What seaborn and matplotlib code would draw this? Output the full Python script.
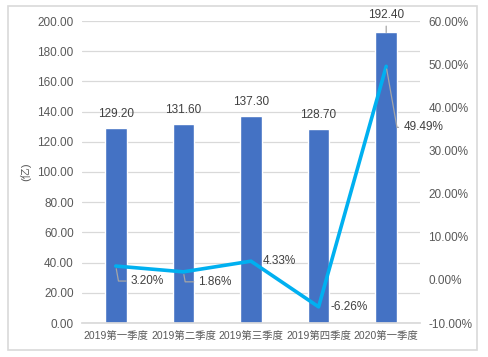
import matplotlib
matplotlib.use("Agg")
import matplotlib.pyplot as plt
import matplotlib.patches as mpatches
import seaborn as sns
import pandas as pd
import numpy as np

quarters = ["2019第一季度", "2019第二季度", "2019第三季度", "2019第四季度", "2020第一季度"]
amounts = [129.20, 131.60, 137.30, 128.70, 192.40]
growth = [3.20, 1.86, 4.33, -6.26, 49.49]
left_ticks = [0, 20, 40, 60, 80, 100, 120, 140, 160, 180, 200]
right_ticks = [-10, 0, 10, 20, 30, 40, 50, 60]

sns.set_theme(style="white")
plt.rcParams["font.family"] = ["Liberation Sans", "Noto Sans CJK SC", "DejaVu Sans"]

bar_color = "#4472C4"
line_color = "#00B0F0"
grey = "#595959"
lead = "#A6A6A6"

df = pd.DataFrame({"quarter": quarters, "amount": amounts, "growth": growth})
df["pos"] = np.arange(len(df))

fig = plt.figure(figsize=(4.88, 3.57), dpi=100)
ax = fig.add_axes([82 / 488, 1 - 323 / 357, (420 - 82) / 488, (323 - 21) / 357])

# outer frame
fig.patches.append(mpatches.Rectangle((8 / 488, 1 - 350 / 357), 469 / 488, 344 / 357,
                                      transform=fig.transFigure, fill=False,
                                      edgecolor="#D9D9D9", linewidth=1.2))

sns.barplot(data=df, x="quarter", y="amount", color=bar_color, width=0.32,
            saturation=1, ax=ax, zorder=2)
ax.set_ylim(0, 200)
ax.set_yticks(left_ticks)
ax.set_yticklabels([f"{v:.2f}" for v in left_ticks], color=grey, fontsize=8.5)
ax.set_xlabel("")
ax.set_ylabel("(亿)", color=grey, fontsize=8, labelpad=4)
ax.tick_params(axis="x", colors=grey, labelsize=7.5, length=0, pad=6)
ax.tick_params(axis="y", length=0, pad=6)
ax.grid(axis="y", color="#D9D9D9", linewidth=0.9, zorder=0)
ax.set_axisbelow(True)
for s in ["top", "left", "right"]:
    ax.spines[s].set_visible(False)
ax.spines["bottom"].set_color("#D9D9D9")

# bar value labels
for i, v in enumerate(amounts):
    if i == len(amounts) - 1:
        ax.annotate(f"{v:.2f}", xy=(i, v), xytext=(0, 17), textcoords="offset pixels",
                    ha="center", va="center", fontsize=8.5, color="#404040",
                    annotation_clip=False, zorder=5,
                    arrowprops=dict(arrowstyle="-", color=lead, lw=0.9,
                                    shrinkA=1, shrinkB=0))
    else:
        ax.annotate(f"{v:.2f}", xy=(i, v), xytext=(0, 14), textcoords="offset pixels",
                    ha="center", va="center", fontsize=8.5, color="#404040")

ax2 = ax.twinx()
sns.lineplot(data=df, x="pos", y="growth", color=line_color, linewidth=2.6, ax=ax2,
             zorder=3)
ax2.set_ylim(-10, 60)
ax.set_xlim(-0.5, len(quarters) - 0.5)
ax2.set_yticks(right_ticks)
ax2.set_yticklabels([f"{v:.2f}%" for v in right_ticks], color=grey, fontsize=8.5)
ax2.set_ylabel("")
ax2.set_xlabel("")
ax2.tick_params(axis="y", length=0, pad=6)
for s in ax2.spines.values():
    s.set_visible(False)
ax2.grid(False)

# line labels (pixel offsets from each point)
offsets = [(15, -15), (15, -10), (12, 0), (12, 0), (17, -61)]
leaders = [True, True, False, False, True]
for i, (g, off, has_lead) in enumerate(zip(growth, offsets, leaders)):
    props = None
    if has_lead:
        props = dict(arrowstyle="-", color=lead, lw=0.9, shrinkA=1, shrinkB=2,
                     connectionstyle="angle,angleA=0,angleB=-80,rad=0")
    ax2.annotate(f"{g:.2f}%", xy=(i, g), xytext=off, textcoords="offset pixels",
                 ha="left", va="center", fontsize=8.5, color="#404040",
                 arrowprops=props)

fig.savefig("out.png", dpi=100)
